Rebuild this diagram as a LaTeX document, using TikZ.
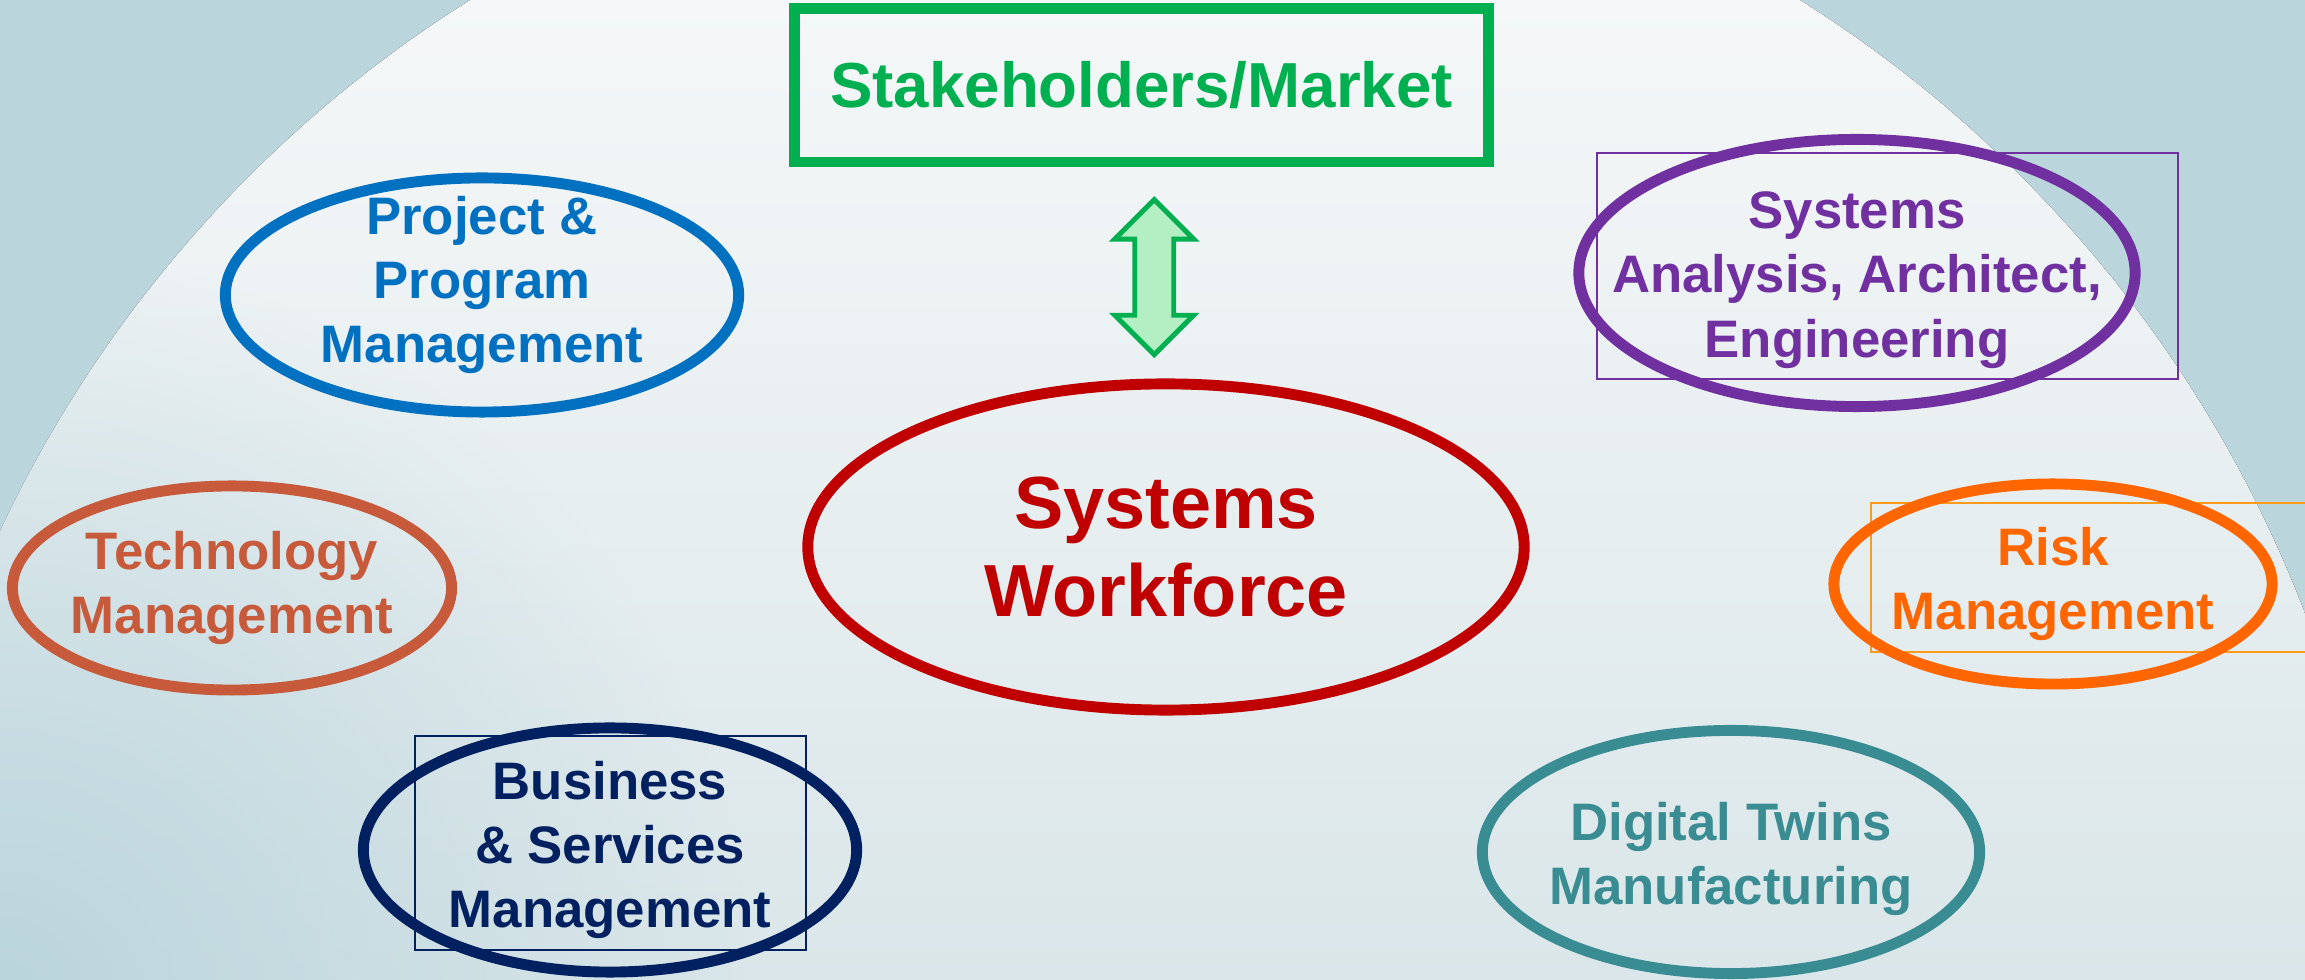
\documentclass[tikz,border=0pt]{standalone}
\usepackage{fontspec}
\setmainfont{Liberation Sans}
\usepackage{tikz}
\usetikzlibrary{shapes.geometric,shapes.arrows,calc,fadings}
\definecolor{sky}{HTML}{BAD5DC}
\definecolor{moontop}{HTML}{F5F7F8}
\definecolor{moonmid}{HTML}{EDF2F4}
\definecolor{moonlow}{HTML}{DAE6E9}
\definecolor{market}{HTML}{00B050}
\definecolor{mint}{HTML}{B3EFC2}
\definecolor{crimson}{HTML}{C00000}
\definecolor{project}{HTML}{0070C0}
\definecolor{techno}{HTML}{C65A3B}
\definecolor{navy}{HTML}{002060}
\definecolor{purple}{HTML}{7030A0}
\definecolor{risk}{HTML}{FF6600}
\definecolor{riskbox}{HTML}{FF9A1A}
\definecolor{twin}{HTML}{3A8C93}
\tikzfading[name=haze, inner color=transparent!0, outer color=transparent!100]
\tikzset{%
    bubble/.style={ellipse, draw=#1, line width=3.1pt, inner sep=0pt},
    caption/.style={%
        text=#1, align=center, inner sep=0pt,
        font=\bfseries\fontsize{15}{18.3}\selectfont
    },
    thinframe/.style={draw=#1, line width=0.45pt}
}

\begin{document}
\begin{tikzpicture}[x=0.01cm,y=-0.01cm]
    \useasboundingbox (0,0) rectangle (2305,980);
    \fill[sky] (0,0) rectangle (2305,980);
    \begin{scope}
        \clip (1135,1062) circle (12.52cm);
        \fill[top color=moontop,middle color=moonmid,bottom color=moonlow] (0,0) rectangle (2305,980);
    \end{scope}
    \fill[sky,path fading=haze] (0,1000) circle (7.5cm);

    \node[draw=market,line width=3.1pt,text=market,minimum width=6.93cm,minimum height=1.53cm,
        font=\bfseries\fontsize{18.1}{22}\selectfont] (market) at (1141.5,85.5) {Stakeholders/Market};
    \node[bubble=crimson,minimum width=7.16cm,minimum height=3.26cm,
        label={[caption=crimson,font=\bfseries\fontsize{21}{25}\selectfont]center:{Systems\\Workforce}}]
        (wf) at (1166,547) {};

    \node[double arrow,rotate=90,draw=market,fill=mint,line width=1.4pt,inner sep=0pt,inner ysep=0.17cm,
        minimum height=1.55cm,double arrow head extend=0.2cm,double arrow tip angle=90]
        (link) at ($(market.south)!0.52!(wf.north)$) {};

    \node[bubble=project,minimum width=5.13cm,minimum height=2.34cm,
        label={[caption=project,yshift=0.10cm]center:{Project \&\\Program\\Management}}] (ppm) at (482,295) {};
    \node[bubble=techno,minimum width=4.39cm,minimum height=2.04cm,
        label={[caption=techno]center:{Technology\\Management}}] (tech) at (232,588) {};

    \draw[thinframe=navy] (415,736) rectangle (806,950);
    \node[bubble=navy,minimum width=4.93cm,minimum height=2.44cm,
        label={[caption=navy]center:{Business\\\& Services\\Management}}] (bsm) at (610,850) {};

    \draw[thinframe=purple] (1597,153) rectangle (2178,379);
    \node[bubble=purple,minimum width=5.56cm,minimum height=2.67cm,
        label={[caption=purple,yshift=-0.07cm]center:{Systems\\Analysis, Architect,\\Engineering}}] (sae) at (1857,273) {};

    \draw[thinframe=riskbox] (1871,503) rectangle (2330,652);
    \node[bubble=risk,minimum width=4.38cm,minimum height=2.00cm,
        label={[caption=risk]center:{Risk\\Management}}] (rm) at (2053,584) {};

    \node[bubble=twin,minimum width=4.97cm,minimum height=2.43cm,
        label={[caption=twin,yshift=-0.07cm]center:{Digital Twins\\Manufacturing}}] (dtm) at (1731,852) {};
\end{tikzpicture}
\end{document}
